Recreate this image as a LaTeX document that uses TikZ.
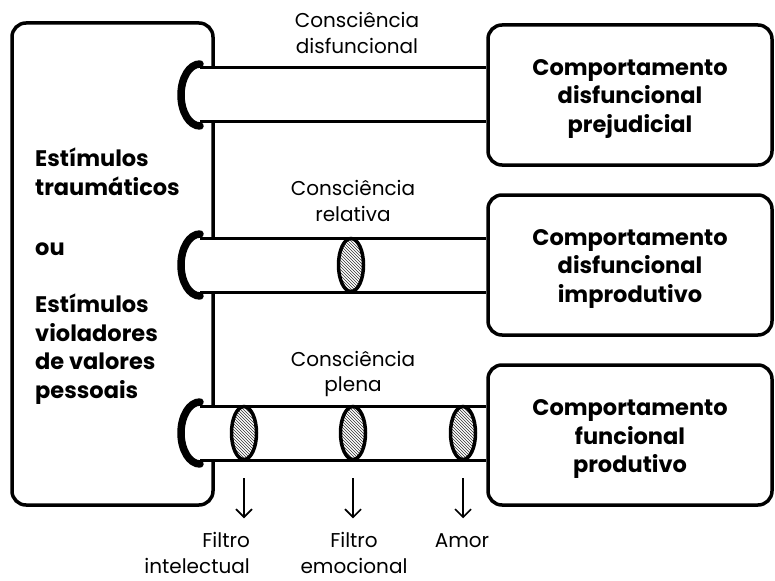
\documentclass[tikz,border=0pt]{standalone}
\usepackage{fontspec}
\setmainfont{Poppins}
\usetikzlibrary{shapes.geometric,patterns,arrows.meta}
\begin{document}
\begin{tikzpicture}[x=1pt,y=-1pt,
  box/.style={draw, line width=3.5pt, rounded corners=14pt, fill=white, inner sep=0pt},
  btxt/.style={align=center, inner sep=0pt, font=\bfseries\fontsize{22.5}{28.5}\selectfont},
  ltxt/.style={align=left, anchor=west, inner sep=0pt, font=\bfseries\fontsize{22.5}{28.5}\selectfont},
  lbl/.style={align=center, inner sep=0pt, font=\fontsize{20}{25.5}\selectfont},
  tubeline/.style={line width=3pt},
  capline/.style={line width=7.5pt, line cap=round},
  filt/.style={ellipse, draw, line width=3.5pt, minimum width=25pt, minimum height=53pt,
    inner sep=0pt, preaction={fill=white}, pattern=north west lines, pattern color=black!80},
  darr/.style={line width=1.6pt, -{Straight Barb[length=8pt,width=16pt]}}
]
\useasboundingbox (0,0) rectangle (775,580);

% source box
\node[box, minimum width=201pt, minimum height=482pt] (src) at (112.5,264) {};
\node[ltxt] (s1) at (35,172) {Estímulos\\traumáticos};
\node[ltxt] (s2) at (35,249) {ou};
\node[ltxt] (s3) at (35,349) {Estímulos\\violadores\\de valores\\pessoais};

% result boxes
\node[box, minimum width=284pt, minimum height=140pt] (b1) at (630,95) {};
\node[box, minimum width=284pt, minimum height=140pt] (b2) at (630,265) {};
\node[box, minimum width=284pt, minimum height=140pt] (b3) at (630,435) {};
\node[btxt] (b1t) at ([yshift=-4pt]b1.center) {Comportamento\\disfuncional\\prejudicial};
\node[btxt] (b2t) at ([yshift=-4pt]b2.center) {Comportamento\\disfuncional\\improdutivo};
\node[btxt] (b3t) at ([yshift=-4pt]b3.center) {Comportamento\\funcional\\produtivo};

% tubes
\foreach \i/\y in {1/95,2/265,3/433}{
  \coordinate (t\i) at (200,\y);
  \fill[white] (200,\y-27) rectangle (486,\y+27);
  \draw[tubeline] ([yshift=27pt]t\i) -- ([yshift=27pt]t\i -| b\i.west);
  \draw[tubeline] ([yshift=-27pt]t\i) -- ([yshift=-27pt]t\i -| b\i.west);
  \draw[capline] ([yshift=31pt]t\i) arc[start angle=90, end angle=270, x radius=19pt, y radius=31pt];
}

% filters
\node[filt] (f0) at (351,265) {};
\node[filt] (f1) at (244,433) {};
\node[filt] (f2) at (353,433) {};
\node[filt] (f3) at (463,433) {};

% arrows
\foreach \f in {f1,f2,f3}{
  \draw[darr] ([yshift=-17pt]\f.south) -- ([yshift=-57pt]\f.south);
}

% labels
\node[lbl] (c1) at (357,33) {Consciência\\disfuncional};
\node[lbl] (c2) at (353,201) {Consciência\\relativa};
\node[lbl] (c3) at (353,374) {Consciência\\plena};
\node[lbl, align=right, anchor=east] (l1) at (250,553) {Filtro\\intelectual};
\node[lbl] (l2) at (354,553) {Filtro\\emocional};
\node[lbl] (l3) at (462,541) {Amor};
\end{tikzpicture}
\end{document}
